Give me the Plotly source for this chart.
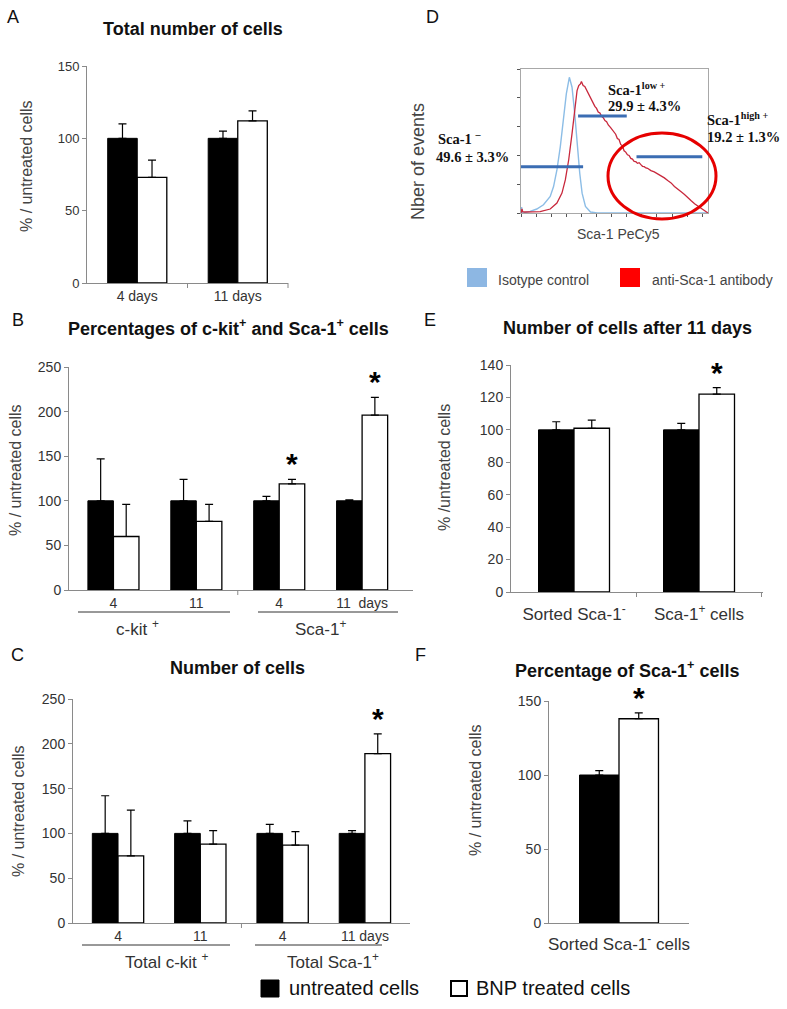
import plotly.graph_objects as go

W, H = 787, 1009
GREY = "#8a8a8a"
TXT = "#333333"
FONT = "Liberation Sans"
SERIF = "Liberation Serif"

SERIES_UNTREATED = "untreated cells"
SERIES_BNP = "BNP treated cells"

# ---------- Panel A ----------
A_cats = ["4 days", "11 days"]
A_unt = [100, 100]
A_unt_err = [10, 5]
A_bnp = [73, 112]
A_bnp_err = [12, 7]
A_sig = [False, False]

# ---------- Panel B ----------
B_cats = ["c-kit 4", "c-kit 11", "Sca-1 4", "Sca-1 11"]
B_ticks = ["4", "11", "4", "11  days"]
B_unt = [100, 100, 100, 100]
B_unt_err = [47, 24, 5, 1]
B_bnp = [60, 77, 119, 196]
B_bnp_err = [36, 19, 5, 20]
B_sig = [False, False, True, True]
B_groups = ["c-kit <sup>+</sup>", "Sca-1<sup>+</sup>"]

# ---------- Panel C ----------
C_cats = ["Total c-kit 4", "Total c-kit 11", "Total Sca-1 4", "Total Sca-1 11"]
C_ticks = ["4", "11", "4", "11 days"]
C_unt = [100, 100, 100, 100]
C_unt_err = [42, 14, 10, 3]
C_bnp = [75, 88, 87, 189]
C_bnp_err = [51, 15, 15, 22]
C_sig = [False, False, False, True]
C_groups = ["Total c-kit <sup>+</sup>", "Total Sca-1<sup>+</sup>"]

# ---------- Panel E ----------
E_cats = ["Sorted Sca-1<sup>-</sup>", "Sca-1<sup>+</sup> cells"]
E_unt = [100, 100]
E_unt_err = [5, 4]
E_bnp = [101, 122]
E_bnp_err = [5, 4]
E_sig = [False, True]

# ---------- Panel F ----------
F_cats = ["Sorted Sca-1<sup>-</sup> cells"]
F_unt = [100]
F_unt_err = [3]
F_bnp = [138]
F_bnp_err = [4]
F_sig = [True]

# ---------- Panel D (flow cytometry histogram, arbitrary units) ----------
D_iso_x = [0, 2, 3, 7, 27, 47, 67, 87, 97, 107, 117, 127, 135, 144, 152, 160, 167, 175, 182, 192, 207, 227, 557]
D_iso_y = [0, 18, 2, 0, 5, 12, 25, 50, 80, 130, 200, 290, 360, 410, 380, 300, 210, 120, 60, 20, 3, 0, 0]
D_anti_x = [0, 3, 5, 10, 57, 87, 107, 122, 132, 142, 152, 160, 167, 172, 177, 180, 185, 190, 195, 200, 205,
            210, 215, 220, 225, 230, 235, 240, 245, 250, 255, 260, 267, 272, 277, 282, 287, 292, 297, 302,
            307, 312, 317, 322, 327, 332, 337, 342, 347, 352, 357, 362, 367, 372, 377, 387, 397, 407, 417,
            427, 437, 447, 457, 467, 477, 487, 497, 507, 517, 527, 537, 547, 557]
D_anti_y = [0, 12, 4, 3, 4, 12, 30, 60, 100, 160, 240, 320, 370, 385, 390, 397, 385, 382, 372, 362, 350,
            343, 330, 322, 316, 305, 302, 292, 288, 279, 276, 266, 258, 250, 243, 238, 225, 222, 207, 203,
            188, 184, 176, 174, 165, 163, 156, 155, 150, 152, 146, 141, 140, 136, 135, 128, 124, 118, 114,
            106, 98, 91, 80, 73, 64, 56, 45, 37, 28, 21, 12, 6, 0]
D_gates = {"neg": (0, 185, 140), "low": (170, 315, 293), "high": (344, 540, 170)}
D_series = ["Isotype control", "anti-Sca-1 antibody"]

fig = go.Figure()


def px(x):
    return x / W


def py(y):
    return 1 - y / H


annotations = []
shapes = []


def ann(text, x, y, size=13, color=TXT, family=FONT, xanchor="center", yanchor="middle", angle=0):
    annotations.append(dict(text=text, x=px(x), y=py(y), xref="paper", yref="paper", showarrow=False,
                            xanchor=xanchor, yanchor=yanchor, textangle=angle,
                            font=dict(family=family, size=size, color=color)))


def bar_panel(idx, cats, ticktext, unt, unt_err, bnp, bnp_err, sig, xpix, ypix, xrange, yrange, dtick, w,
              tick_size=14, ytick_size=14, standoff=None):
    xa, ya = f"x{idx}", f"y{idx}"
    fig.add_trace(go.Bar(x=cats, y=unt, width=w, offset=-w, name=SERIES_UNTREATED,
                         marker=dict(color="black", line=dict(color="black", width=1)),
                         error_y=dict(type="data", symmetric=False, array=unt_err, arrayminus=[0] * len(cats),
                                      color="black", thickness=1.2, width=4),
                         xaxis=xa, yaxis=ya, showlegend=False))
    fig.add_trace(go.Bar(x=cats, y=bnp, width=w, offset=0, name=SERIES_BNP,
                         marker=dict(color="white", line=dict(color="black", width=1.3)),
                         error_y=dict(type="data", symmetric=False, array=bnp_err, arrayminus=[0] * len(cats),
                                      color="black", thickness=1.2, width=4),
                         xaxis=xa, yaxis=ya, showlegend=False))
    xdom = [px(xpix[0]), px(xpix[1])]
    ydom = [py(ypix[1]), py(ypix[0])]
    xaxis = dict(domain=xdom, anchor=ya, type="category", range=xrange, showline=True, linecolor=GREY,
                 linewidth=1, ticks="", tickvals=cats, ticktext=ticktext, showgrid=False, zeroline=False,
                 tickfont=dict(family=FONT, size=tick_size, color=TXT))
    if standoff is not None:
        xaxis["ticklabelstandoff"] = standoff
    yaxis = dict(domain=ydom, anchor=xa, range=yrange, dtick=dtick, showline=True, linecolor=GREY,
                 linewidth=1, ticks="outside", ticklen=4, tickcolor=GREY, showgrid=False, zeroline=False,
                 tickfont=dict(family=FONT, size=ytick_size, color=TXT))
    fig.update_layout(**{f"xaxis{idx}": xaxis, f"yaxis{idx}": yaxis})
    for i, s in enumerate(sig):
        if s:
            annotations.append(dict(text="<b>*</b>", x=i + w / 2, y=bnp[i] + bnp_err[i], xref=xa, yref=ya,
                                    showarrow=False, xanchor="center", yanchor="bottom", yshift=-3,
                                    font=dict(family=FONT, size=30, color="black")))

    def divider(v):
        fx = xdom[0] + (v - xrange[0]) / (xrange[1] - xrange[0]) * (xdom[1] - xdom[0])
        shapes.append(dict(type="line", xref="paper", yref="paper", x0=fx, x1=fx, y0=ydom[0],
                           y1=ydom[0] - 5 / H, line=dict(color=GREY, width=1)))
    return divider


# Panel A
divA = bar_panel(1, A_cats, A_cats, A_unt, A_unt_err, A_bnp, A_bnp_err, A_sig,
                 (87, 288), (66, 283), [-0.5, 1.5], [0, 150], 50, 0.294, tick_size=14, ytick_size=13)
divA(0.5)
divA(1.5)
# Panel B
divB = bar_panel(2, B_cats, B_ticks, B_unt, B_unt_err, B_bnp, B_bnp_err, B_sig,
                 (69, 413), (367, 590), [-0.536, 3.614], [0, 250], 50, 0.308)
divB(1.5)
# Panel C
divC = bar_panel(3, C_cats, C_ticks, C_unt, C_unt_err, C_bnp, C_bnp_err, C_sig,
                 (73, 410), (699, 923), [-0.547, 3.548], [0, 250], 50, 0.312)
divC(1.5)
# Panel E
divE = bar_panel(5, E_cats, E_cats, E_unt, E_unt_err, E_bnp, E_bnp_err, E_sig,
                 (511, 763), (365, 592), [-0.504, 1.512], [0, 140], 20, 0.284, tick_size=17, standoff=7)
divE(0.5)
divE(1.5)
# Panel F
divF = bar_panel(6, F_cats, F_cats, F_unt, F_unt_err, F_bnp, F_bnp_err, F_sig,
                 (549, 689), (701, 923), [-0.5, 0.5], [0, 150], 50, 0.282, tick_size=17, standoff=6)

# Panel D histogram
fig.add_trace(go.Scatter(x=D_iso_x, y=D_iso_y, mode="lines", line=dict(color="#8cbde6", width=1.4),
                         name=D_series[0], xaxis="x4", yaxis="y4", showlegend=False))
fig.add_trace(go.Scatter(x=D_anti_x, y=D_anti_y, mode="lines", line=dict(color="#c8283c", width=1.3),
                         name=D_series[1], xaxis="x4", yaxis="y4", showlegend=False))
for k, (g0, g1, gy) in D_gates.items():
    fig.add_trace(go.Scatter(x=[g0, g1], y=[gy, gy], mode="lines", line=dict(color="#3b6db3", width=3),
                             xaxis="x4", yaxis="y4", showlegend=False, hoverinfo="skip"))
fig.update_layout(
    xaxis4=dict(domain=[px(521), px(708)], anchor="y4", range=[0, 557], showline=True, mirror=True,
                linecolor="#a8a8a8", ticks="outside", ticklen=3, tickcolor="#555", dtick=45,
                showticklabels=False, showgrid=False, zeroline=False),
    yaxis4=dict(domain=[py(213), py(69)], anchor="x4", range=[0, 435], showline=True, mirror=True,
                linecolor="#a8a8a8", ticks="outside", ticklen=3, tickcolor="#555", dtick=87,
                showticklabels=False, showgrid=False, zeroline=False),
)
# red ellipse (high gate highlight)
shapes.append(dict(type="circle", xref="paper", yref="paper", x0=px(608), x1=px(716), y0=py(219), y1=py(133),
                   line=dict(color="#e60000", width=3)))

# D texts
DS = 14.5
ann("<b>Sca-1 <sup>–</sup></b>", 436, 138, size=DS, color="#111", family=SERIF, xanchor="left")
ann("<b>49.6 ± 3.3%</b>", 434, 157, size=DS, color="#111", family=SERIF, xanchor="left")
ann("<b>Sca-1<sup>low +</sup></b>", 606, 89, size=DS, color="#111", family=SERIF, xanchor="left")
ann("<b>29.9 ± 4.3%</b>", 606, 106, size=DS, color="#111", family=SERIF, xanchor="left")
ann("<b>Sca-1<sup>high +</sup></b>", 705, 119, size=DS, color="#111", family=SERIF, xanchor="left")
ann("<b>19.2 ± 1.3%</b>", 705, 137, size=DS, color="#111", family=SERIF, xanchor="left")
ann("Nber of events", 418, 161, size=18, color="#444", angle=-90)
ann("Sca-1 PeCy5", 618, 234, size=14, color="#444")
shapes.append(dict(type="rect", xref="paper", yref="paper", x0=px(467), x1=px(487), y0=py(287), y1=py(268),
                   fillcolor="#8db7e3", line=dict(width=0)))
shapes.append(dict(type="rect", xref="paper", yref="paper", x0=px(620), x1=px(640), y0=py(287), y1=py(268),
                   fillcolor="#ff0000", line=dict(width=0)))
ann(D_series[0], 496, 280, size=14, color="#444", xanchor="left")
ann(D_series[1], 650, 280, size=14, color="#444", xanchor="left")

# Panel letters
for letter, x, y in [("A", 13, 17), ("B", 18, 320), ("C", 17, 655), ("D", 432, 17), ("E", 430, 320), ("F", 420, 655)]:
    ann(letter, x, y, size=18, color="#111")

# Titles
ann("<b>Total number of cells</b>", 193, 29, size=18, color="#111")
ann("<b>Percentages of c-kit<sup>+</sup> and Sca-1<sup>+</sup> cells</b>", 228, 327, size=18, color="#111")
ann("<b>Number of cells</b>", 237, 668, size=18, color="#111")
ann("<b>Number of cells after 11 days</b>", 627, 328, size=18, color="#111")
ann("<b>Percentage of Sca-1<sup>+</sup> cells</b>", 627, 669, size=18, color="#111")

# Y axis titles
ann("% / untreated cells", 26, 166, size=16, color="#444", angle=-90)
ann("% / untreated cells", 15, 470, size=16, color="#444", angle=-90)
ann("% / untreated cells", 18, 811, size=16, color="#444", angle=-90)
ann("% /untreated cells", 445, 468, size=16, color="#444", angle=-90)
ann("% / untreated cells", 475, 790, size=16, color="#444", angle=-90)

# Group underlines and labels (B, C)
for (x0, x1, yl, label, lx, ly) in [(78, 230, 612, B_groups[0], 137, 628), (258, 398, 612, B_groups[1], 320, 628),
                                    (82, 230, 945, C_groups[0], 167, 961), (255, 382, 945, C_groups[1], 333, 961)]:
    shapes.append(dict(type="line", xref="paper", yref="paper", x0=px(x0), x1=px(x1), y0=py(yl), y1=py(yl),
                       line=dict(color="#333", width=1)))
    ann(label, lx, ly, size=17, color="#333")

# Bottom legend
shapes.append(dict(type="rect", xref="paper", yref="paper", x0=px(261), x1=px(279), y0=py(997), y1=py(980),
                   fillcolor="black", line=dict(color="black", width=1)))
shapes.append(dict(type="rect", xref="paper", yref="paper", x0=px(451), x1=px(467), y0=py(996), y1=py(981),
                   fillcolor="white", line=dict(color="black", width=2)))
ann(SERIES_UNTREATED, 287, 988, size=20, color="#111", xanchor="left")
ann(SERIES_BNP, 474, 988, size=20, color="#111", xanchor="left")

fig.update_layout(width=W, height=H, margin=dict(l=0, r=0, t=0, b=0, autoexpand=False), paper_bgcolor="white",
                  plot_bgcolor="white", annotations=annotations, shapes=shapes, showlegend=False)
fig.write_html("out.html", config={"displayModeBar": False},
               post_script="document.body.style.margin='0';document.body.style.overflow='hidden';")
